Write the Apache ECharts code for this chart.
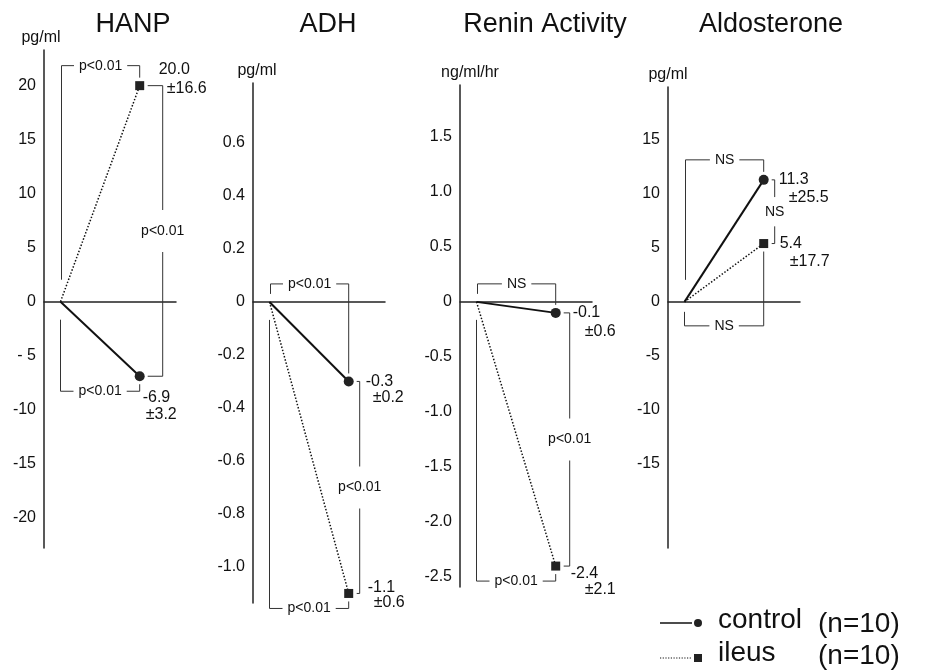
<!DOCTYPE html>
<html>
<head>
<meta charset="utf-8">
<title>HANP, ADH, Renin Activity, Aldosterone</title>
<script src="https://cdn.jsdelivr.net/npm/echarts@6/dist/echarts.min.js"></script>
<style>
    html, body { margin: 0; padding: 0; background: #fff; }
    #chart { width: 926px; height: 672px; }
</style>
</head>
<body>
<div id="chart"></div>
<script>
var panelTitles = ['HANP', 'ADH', 'Renin Activity', 'Aldosterone'];
var panelUnits = ['pg/ml', 'pg/ml', 'ng/ml/hr', 'pg/ml'];
var timePoints = [1.25, 7.25];        // before / after
var controlValues = [-6.9, -0.3, -0.1, 11.3];
var controlSD = [3.2, 0.2, 0.6, 25.5];
var ileusValues = [20.0, -1.1, -2.4, 5.4];
var ileusSD = [16.6, 0.6, 2.1, 17.7];
var groupN = [10, 10];

// significance marks
var controlVsBase = ['p<0.01', 'p<0.01', 'NS', 'NS'];
var ileusVsBase = ['p<0.01', 'p<0.01', 'p<0.01', 'NS'];
var groupDiff = ['p<0.01', 'p<0.01', 'p<0.01', 'NS'];

// tick labels of each panel
var hanpTicks = [20, 15, 10, 5, 0, -5, -10, -15, -20];
var hanpTickLabels = ['20', '15', '10', '5', '0', '- 5', '-10', '-15', '-20'];
var adhTicks = [0.6, 0.4, 0.2, 0, -0.2, -0.4, -0.6, -0.8, -1.0];
var adhTickLabels = ['0.6', '0.4', '0.2', '0', '-0.2', '-0.4', '-0.6', '-0.8', '-1.0'];
var reninTicks = [1.5, 1.0, 0.5, 0, -0.5, -1.0, -1.5, -2.0, -2.5];
var reninTickLabels = ['1.5', '1.0', '0.5', '0', '-0.5', '-1.0', '-1.5', '-2.0', '-2.5'];
var aldoTicks = [15, 10, 5, 0, -5, -10, -15];
var aldoTickLabels = ['15', '10', '5', '0', '-5', '-10', '-15'];

var tickValues = [hanpTicks, adhTicks, reninTicks, aldoTicks];
var tickLabels = [hanpTickLabels, adhTickLabels, reninTickLabels, aldoTickLabels];
var axisRange = [[-22.8, 23.3], [-1.136, 0.826], [-2.59, 1.97], [-22.8, 19.9]];

// layout
var FONT = '"Liberation Sans", Arial, Helvetica, sans-serif';
var INK = '#111';
var grids = [
    {left: 44, top: 50, width: 132, height: 498},
    {left: 253, top: 83, width: 132, height: 520},
    {left: 460, top: 85, width: 132, height: 502},
    {left: 668, top: 87, width: 132, height: 461}
];
var titleX = [133, 328, 545, 771];
var unitShift = [-3, 4, 10, 0];
var groupBracketDx = [23, 11, 14, 11];
// [value dx, value dy, sd dx, sd dy] for [control, ileus]
var labelPos = [
    [[3, 21, 6, 38], [19, -16, 27, 3]],
    [[17, 0, 24, 16], [19, -6, 25, 9]],
    [[17, 0, 29, 19], [15, 8, 29, 24]],
    [[15, 0, 25, 18], [16, 0, 26, 18]]
];

var chart = echarts.init(document.getElementById('chart'));

var option = {
    backgroundColor: '#fff',
    animation: false,
    title: [],
    grid: [],
    xAxis: [],
    yAxis: [],
    series: []
};

for (var i = 0; i < 4; i++) {
    option.title.push({
        text: panelTitles[i], left: titleX[i], top: 11, textAlign: 'center', padding: 0,
        textStyle: {fontFamily: FONT, fontSize: 27, fontWeight: 'normal', color: INK}
    });
    option.grid.push({
        left: grids[i].left, top: grids[i].top, width: grids[i].width, height: grids[i].height,
        containLabel: false, outerBoundsMode: 'none'
    });
    option.xAxis.push({
        type: 'value', gridIndex: i, min: 0, max: 10,
        axisLine: {show: true, onZero: true, lineStyle: {color: '#222', width: 1.5}},
        axisTick: {show: false}, axisLabel: {show: false}, splitLine: {show: false}
    });
    (function (idx) {
        var sh = unitShift[idx];
        option.yAxis.push({
            type: 'value', gridIndex: idx, min: axisRange[idx][0], max: axisRange[idx][1],
            name: panelUnits[idx], nameLocation: 'end', nameGap: 4,
            nameTextStyle: {
                fontFamily: FONT, fontSize: 16, color: INK,
                padding: sh >= 0 ? [0, 0, 0, 2 * sh] : [0, -2 * sh, 0, 0]
            },
            axisLine: {show: true, onZero: false, lineStyle: {color: '#222', width: 1.5}},
            axisTick: {show: false},
            splitLine: {show: false},
            axisLabel: {
                customValues: tickValues[idx],
                margin: 8,
                fontFamily: FONT, fontSize: 16, color: INK,
                formatter: function (v) {
                    var k = tickValues[idx].indexOf(v);
                    return k >= 0 ? tickLabels[idx][k] : '';
                }
            }
        });
    })(i);
    option.series.push({
        name: 'control', type: 'line', xAxisIndex: i, yAxisIndex: i, z: 5,
        data: [{value: [timePoints[0], 0], symbol: 'none'}, {value: [timePoints[1], controlValues[i]]}],
        symbol: 'circle', symbolSize: 10,
        itemStyle: {color: '#222'},
        lineStyle: {color: INK, width: 2, type: 'solid'}
    });
    option.series.push({
        name: 'ileus', type: 'line', xAxisIndex: i, yAxisIndex: i, z: 5,
        data: [{value: [timePoints[0], 0], symbol: 'none'}, {value: [timePoints[1], ileusValues[i]]}],
        symbol: 'rect', symbolSize: 9,
        itemStyle: {color: '#222'},
        lineStyle: {color: INK, width: 1.5, type: [1.5, 1.8]}
    });
}

chart.setOption(option);

function seg(points) {
    return {type: 'polyline', silent: true, z: 1, shape: {points: points},
        style: {stroke: '#333', lineWidth: 1, fill: null}};
}
function txt(x, y, text, size, align, pad) {
    var st = {text: text, fill: INK, font: size + 'px ' + FONT,
        align: align || 'left', verticalAlign: 'middle'};
    if (pad) {
        st.backgroundColor = '#fff';
        st.padding = pad;
    }
    return {type: 'text', silent: true, z: 3, x: x, y: y, style: st};
}

var els = [];
for (var p = 0; p < 4; p++) {
    var O = chart.convertToPixel({gridIndex: p}, [timePoints[0], 0]);
    var C = chart.convertToPixel({gridIndex: p}, [timePoints[1], controlValues[p]]);
    var I = chart.convertToPixel({gridIndex: p}, [timePoints[1], ileusValues[p]]);
    var cHigh = C[1] < I[1];
    var hi = cHigh ? C : I, lo = cHigh ? I : C;
    var hiSig = cHigh ? controlVsBase[p] : ileusVsBase[p];
    var loSig = cHigh ? ileusVsBase[p] : controlVsBase[p];

    // bracket above: baseline vs upper point
    var topY = Math.min(O[1] - 18, hi[1] - 20);
    var leftBottom = hi[1] < O[1] ? O[1] - 22 : O[1] - 8;
    els.push(seg([[O[0] + 1, leftBottom], [O[0] + 1, topY], [hi[0], topY], [hi[0], hi[1] - 8]]));
    els.push(txt((O[0] + 1 + hi[0]) / 2, topY, hiSig, 14, 'center', [0, 5]));

    // bracket below: baseline vs lower point
    var botY = Math.max(O[1] + 24, lo[1] + 15);
    var leftTop = lo[1] > O[1] ? O[1] + 18 : botY - 14;
    els.push(seg([[O[0], leftTop], [O[0], botY], [lo[0], botY], [lo[0], lo[1] + 8]]));
    els.push(txt((O[0] + lo[0]) / 2, botY, loSig, 14, 'center', [0, 5]));

    // bracket between the groups
    var bx = hi[0] + groupBracketDx[p];
    els.push(seg([[hi[0] + 8, hi[1]], [bx, hi[1]], [bx, lo[1]], [lo[0] + 8, lo[1]]]));
    var padV = Math.min(14, (lo[1] - hi[1]) * 0.12);
    els.push(txt(bx, (hi[1] + lo[1]) / 2, groupDiff[p], 14, 'center', [padV, 2]));

    // mean and SD labels
    var lc = labelPos[p][0], li = labelPos[p][1];
    els.push(txt(C[0] + lc[0], C[1] + lc[1], controlValues[p].toFixed(1), 16));
    els.push(txt(C[0] + lc[2], C[1] + lc[3], '\u00b1' + controlSD[p].toFixed(1), 16));
    els.push(txt(I[0] + li[0], I[1] + li[1], ileusValues[p].toFixed(1), 16));
    els.push(txt(I[0] + li[2], I[1] + li[3], '\u00b1' + ileusSD[p].toFixed(1), 16));
}

// legend
els.push({type: 'line', silent: true, shape: {x1: 660, y1: 623, x2: 692, y2: 623},
    style: {stroke: INK, lineWidth: 1.5}});
els.push({type: 'circle', silent: true, shape: {cx: 698, cy: 623, r: 4}, style: {fill: '#222'}});
els.push(txt(718, 620, 'control', 28));
els.push(txt(818, 624, '(n=' + groupN[0] + ')', 28));
els.push({type: 'line', silent: true, shape: {x1: 660, y1: 658, x2: 692, y2: 658},
    style: {stroke: INK, lineWidth: 1.2, lineDash: [1.2, 1.5]}});
els.push({type: 'rect', silent: true, shape: {x: 694, y: 654, width: 8, height: 8}, style: {fill: '#222'}});
els.push(txt(718, 653, 'ileus', 28));
els.push(txt(818, 656, '(n=' + groupN[1] + ')', 28));

chart.setOption({graphic: els});
</script>
</body>
</html>
